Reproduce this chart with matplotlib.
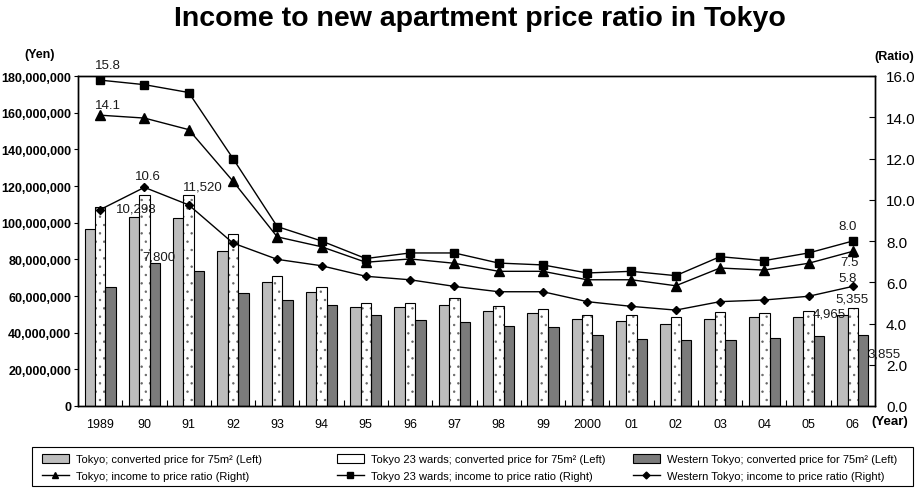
import matplotlib
matplotlib.use("Agg")
import matplotlib.pyplot as plt
import numpy as np
from matplotlib.ticker import FuncFormatter, FixedLocator
from matplotlib.patches import Patch, Rectangle
from matplotlib.lines import Line2D

plt.rcParams['font.family'] = ['Liberation Sans', 'DejaVu Sans']
plt.rcParams['hatch.linewidth'] = 0.5

years = ["1989", "90", "91", "92", "93", "94", "95", "96", "97", "98", "99",
         "2000", "01", "02", "03", "04", "05", "06"]

# converted price for 75m2 (yen)
price_tokyo = [96.5e6, 102.98e6, 102.4e6, 84.7e6, 67.5e6, 62.0e6, 53.8e6, 53.8e6, 55.1e6,
               52.0e6, 50.6e6, 47.5e6, 46.2e6, 44.7e6, 47.5e6, 48.4e6, 48.7e6, 49.65e6]
price_23wards = [108.5e6, 115.0e6, 115.2e6, 93.6e6, 71.1e6, 64.7e6, 56.0e6, 56.0e6, 58.7e6,
                 54.4e6, 52.9e6, 49.8e6, 49.6e6, 48.4e6, 51.1e6, 50.7e6, 52.0e6, 53.55e6]
price_western = [65.0e6, 78.0e6, 73.8e6, 61.5e6, 58.0e6, 55.3e6, 49.8e6, 46.9e6, 45.8e6,
                 43.8e6, 42.9e6, 38.9e6, 36.5e6, 36.0e6, 36.0e6, 37.1e6, 38.0e6, 38.55e6]

# income to price ratio
ratio_tokyo = [14.1, 13.96, 13.4, 10.9, 8.2, 7.72, 6.97, 7.13, 6.92, 6.53, 6.53, 6.12,
               6.12, 5.83, 6.69, 6.59, 6.92, 7.5]
ratio_23wards = [15.8, 15.58, 15.2, 12.0, 8.7, 8.0, 7.15, 7.42, 7.42, 6.93, 6.84, 6.45,
                 6.53, 6.32, 7.24, 7.05, 7.42, 8.0]
ratio_western = [9.52, 10.6, 9.75, 7.9, 7.11, 6.8, 6.29, 6.12, 5.8, 5.54, 5.54, 5.06,
                 4.83, 4.65, 5.06, 5.14, 5.32, 5.8]

c_light = "#bdbdbd"
c_dark = "#7b7b7b"
c_dots = "#666666"

fig = plt.figure(figsize=(9.21, 4.89), dpi=100)
ax = fig.add_axes([78/921, 1-407/489, (875-78)/921, (407-77)/489])
ax2 = ax.twinx()

x = np.arange(len(years))
w = 0.235
ax.bar(x - w, price_tokyo, w, color=c_light, edgecolor="black", linewidth=0.8, zorder=2)
ax.bar(x, price_23wards, w, color="white", edgecolor=c_dots, linewidth=0,
       hatch="..", zorder=2)
ax.bar(x, price_23wards, w, color="none", edgecolor="black", linewidth=0.8, zorder=2.1)
ax.bar(x + w, price_western, w, color=c_dark, edgecolor="black", linewidth=0.8, zorder=2)

ax.set_xlim(-0.5, len(years) - 0.5)
ax.set_ylim(0, 180e6)
ax.set_yticks(np.arange(0, 180e6 + 1, 20e6))
ax.yaxis.set_major_formatter(FuncFormatter(lambda v, p: f"{int(v):,}"))
ax.tick_params(axis="y", direction="out", length=3, labelsize=9, width=0.8, pad=2)
ax.set_xticks(x)
ax.set_xticklabels(years)
ax.tick_params(axis="x", which="major", length=0, labelsize=9, pad=9)
ax.xaxis.set_minor_locator(FixedLocator(np.arange(0.5, len(years) - 1, 1.0)))
ax.tick_params(axis="x", which="minor", direction="in", length=4, width=0.8)
for lab_ in ax.get_yticklabels():
    lab_.set_fontweight("bold")

ax2.plot(x, ratio_tokyo, color="black", lw=1.0, marker="^", markersize=6.5, zorder=3)
ax2.plot(x, ratio_23wards, color="black", lw=1.0, marker="s", markersize=6, zorder=3)
ax2.plot(x, ratio_western, color="black", lw=1.0, marker="D", markersize=4.5, zorder=3)
ax2.set_ylim(0, 16)
ax2.set_yticks(np.arange(0, 16.1, 2))
ax2.yaxis.set_major_formatter(FuncFormatter(lambda v, p: f"{v:.1f}"))
ax2.tick_params(axis="y", direction="in", length=4, labelsize=11, width=0.8, pad=8)

for a in (ax, ax2):
    for s in a.spines.values():
        s.set_linewidth(1.0)

# data labels (pixel offsets converted to points at dpi 100)
def lab(axis, xi, yv, text, dx, dy):
    axis.annotate(text, (xi, yv), xytext=(dx * 0.72, dy * 0.72), textcoords="offset points",
                  ha="center", va="center", fontsize=9.5, color="#1a1a1a", zorder=5)

lab(ax2, 0, ratio_23wards[0], "15.8", 8, 15)
lab(ax2, 0, ratio_tokyo[0], "14.1", 8, 10)
lab(ax2, 1, ratio_western[1], "10.6", 3, 11)
lab(ax, 1 - w, price_tokyo[1], "10,298", 2, 9)
lab(ax, 2, price_23wards[2], "11,520", 14, 8)
lab(ax, 1 + w, price_western[1], "7,800", 4, 6)
lab(ax2, 17, ratio_23wards[17], "8.0", -5, 15)
lab(ax2, 17, ratio_tokyo[17], "7.5", -3, -11)
lab(ax2, 17, ratio_western[17], "5.8", -5, 8)
lab(ax, 17, price_23wards[17], "5,355", -1, 9)
lab(ax, 17 - w, price_tokyo[17], "4,965", -13, 1)
lab(ax, 17 + w, price_western[17], "3,855", 21, -18)

fig.text(480/921, 1-19/489, "Income to new apartment price ratio in Tokyo",
         ha="center", va="center", fontsize=20.5, fontweight="bold")
fig.text(40/921, 1-55/489, "(Yen)", ha="center", va="center", fontsize=9, fontweight="bold")
fig.text(894/921, 1-57/489, "(Ratio)", ha="center", va="center", fontsize=9, fontweight="bold")
fig.text(890/921, 1-422/489, "(Year)", ha="center", va="center", fontsize=9.5, fontweight="bold")

# legend: frame plus three columns
fig.patches.append(Rectangle((32/921, 2/489), 881/921, 39/489, transform=fig.transFigure,
                             facecolor="white", edgecolor="black", linewidth=0.8))
cols = [
    ([Patch(facecolor=c_light, edgecolor="black", linewidth=0.8),
      Line2D([], [], color="black", lw=1.0, marker="^", markersize=5)],
     ["Tokyo; converted price for 75m² (Left)", "Tokyo; income to price ratio (Right)"], 42),
    ([Patch(facecolor="white", edgecolor="black", linewidth=0.8, hatch="."),
      Line2D([], [], color="black", lw=1.0, marker="s", markersize=4.5)],
     ["Tokyo 23 wards; converted price for 75m² (Left)",
      "Tokyo 23 wards; income to price ratio (Right)"], 337),
    ([Patch(facecolor=c_dark, edgecolor="black", linewidth=0.8),
      Line2D([], [], color="black", lw=1.0, marker="D", markersize=3.5)],
     ["Western Tokyo; converted price for 75m² (Left)",
      "Western Tokyo; income to price ratio (Right)"], 633),
]
for hs, ls, xpx in cols:
    fig.legend(hs, ls, loc="center left", bbox_to_anchor=(xpx/921, 1-468.5/489),
               frameon=False, prop={"size": 8}, handlelength=2.4, handleheight=0.8,
               labelspacing=0.55, handletextpad=0.7, borderpad=0, borderaxespad=0)

fig.savefig("out.png", dpi=100)
